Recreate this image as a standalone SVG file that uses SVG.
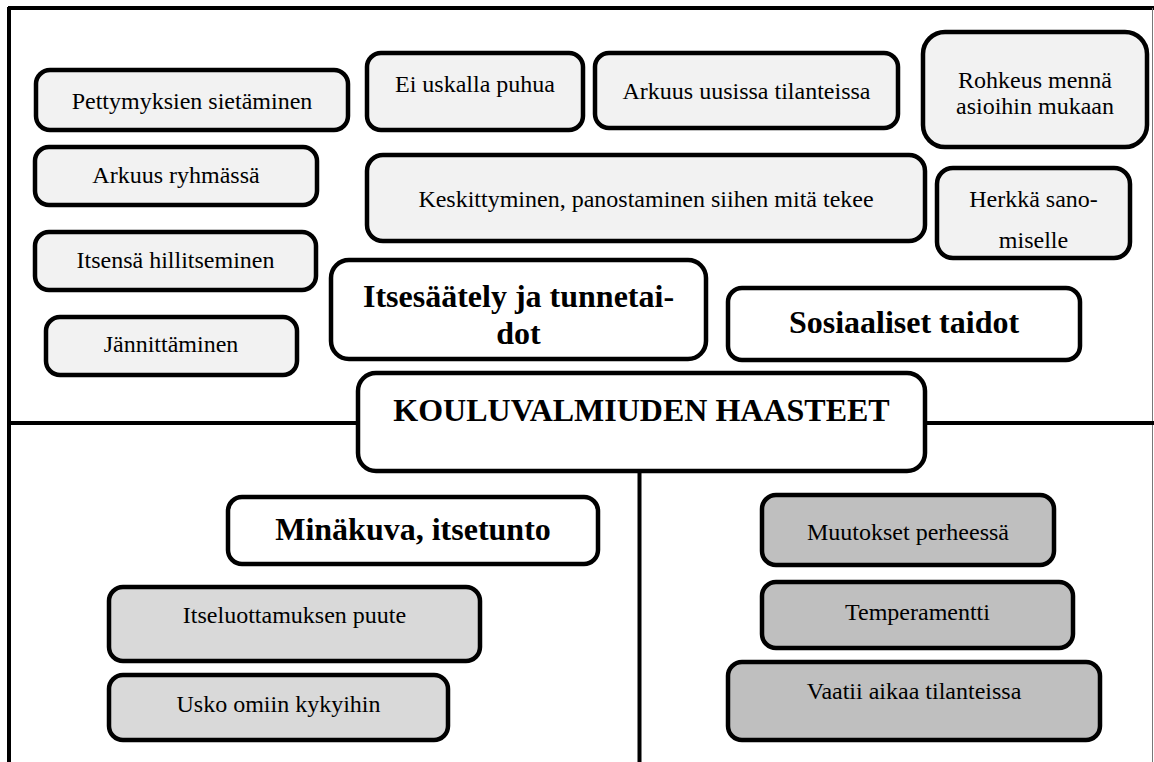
<svg xmlns="http://www.w3.org/2000/svg" width="1154" height="762" viewBox="0 0 1154 762">
  <style>
    .box { stroke: #000; stroke-width: 4.5; }
    .l1 { fill: #f2f2f2; }
    .l2 { fill: #d9d9d9; }
    .l3 { fill: #bfbfbf; }
    .wh { fill: #ffffff; }
    .t { font-family: "Liberation Serif", "Times New Roman", serif; font-size: 24px; fill: #000; text-anchor: middle; }
    .h { font-family: "Liberation Serif", "Times New Roman", serif; font-size: 32px; font-weight: bold; fill: #000; text-anchor: middle; }
    .ln { stroke: #000; stroke-width: 4; fill: none; }
  </style>
  <rect width="1154" height="762" fill="#ffffff"/>

  <!-- frame and dividing lines -->
  <g id="connectors">
    <line class="ln" x1="8" y1="8" x2="1154" y2="8"/>
    <line class="ln" x1="9" y1="7" x2="9" y2="762" stroke-width="3.5"/>
    <line x1="1152.5" y1="8" x2="1152.5" y2="762" stroke="#777" stroke-width="1"/>
    <line class="ln" x1="9" y1="423" x2="358" y2="423"/>
    <line class="ln" x1="925" y1="423" x2="1154" y2="423"/>
    <line class="ln" x1="639.5" y1="471" x2="639.5" y2="762"/>
  </g>

  <!-- upper left: self-regulation items -->
  <g id="pettymyksien">
    <rect class="box l1" x="36" y="70" width="312" height="60" rx="14"/>
    <text class="t" x="192" y="109">Pettymyksien sietäminen</text>
  </g>
  <g id="arkuus-ryhmassa">
    <rect class="box l1" x="35" y="147" width="282" height="58" rx="14"/>
    <text class="t" x="176" y="183">Arkuus ryhmässä</text>
  </g>
  <g id="itsensa-hillitseminen">
    <rect class="box l1" x="35" y="232" width="281" height="58" rx="14"/>
    <text class="t" x="175.5" y="268">Itsensä hillitseminen</text>
  </g>
  <g id="jannittaminen">
    <rect class="box l1" x="46" y="317" width="251" height="58" rx="14"/>
    <text class="t" x="171" y="352">Jännittäminen</text>
  </g>

  <!-- upper right: social items -->
  <g id="ei-uskalla">
    <rect class="box l1" x="367" y="53" width="216" height="77" rx="14"/>
    <text class="t" x="475" y="92">Ei uskalla puhua</text>
  </g>
  <g id="arkuus-uusissa">
    <rect class="box l1" x="595" y="53" width="303" height="75" rx="14"/>
    <text class="t" x="746.5" y="99">Arkuus uusissa tilanteissa</text>
  </g>
  <g id="rohkeus">
    <rect class="box l1" x="923" y="32" width="224" height="115" rx="22"/>
    <text class="t" x="1035" y="88">Rohkeus mennä</text>
    <text class="t" x="1035" y="114">asioihin mukaan</text>
  </g>
  <g id="keskittyminen">
    <rect class="box l1" x="367" y="155" width="558" height="86" rx="16"/>
    <text class="t" x="646" y="207">Keskittyminen, panostaminen siihen mitä tekee</text>
  </g>
  <g id="herkka">
    <rect class="box l1" x="937" y="168" width="193" height="90" rx="16"/>
    <text class="t" x="1033.5" y="207">Herkkä sano-</text>
    <text class="t" x="1033.5" y="248">miselle</text>
  </g>

  <!-- category headings -->
  <g id="itsesaately">
    <rect class="box wh" x="331" y="260" width="375" height="99" rx="18"/>
    <text class="h" x="518.5" y="307">Itsesäätely ja tunnetai-</text>
    <text class="h" x="518.5" y="344">dot</text>
  </g>
  <g id="sosiaaliset">
    <rect class="box wh" x="728" y="288" width="352" height="72" rx="14"/>
    <text class="h" x="904" y="333">Sosiaaliset taidot</text>
  </g>
  <g id="kouluvalmius">
    <rect class="box wh" x="358" y="373" width="567" height="98" rx="18"/>
    <text class="h" x="641.5" y="421">KOULUVALMIUDEN HAASTEET</text>
  </g>
  <g id="minakuva">
    <rect class="box wh" x="228" y="497" width="370" height="67" rx="14"/>
    <text class="h" x="413" y="540">Minäkuva, itsetunto</text>
  </g>

  <!-- lower left: self-image items -->
  <g id="itseluottamus">
    <rect class="box l2" x="109" y="587" width="371" height="74" rx="14"/>
    <text class="t" x="294.5" y="623">Itseluottamuksen puute</text>
  </g>
  <g id="usko">
    <rect class="box l2" x="109" y="675" width="339" height="65" rx="14"/>
    <text class="t" x="278.5" y="712">Usko omiin kykyihin</text>
  </g>

  <!-- lower right: background factors -->
  <g id="muutokset">
    <rect class="box l3" x="762" y="495" width="292" height="70" rx="14"/>
    <text class="t" x="908" y="540">Muutokset perheessä</text>
  </g>
  <g id="temperamentti">
    <rect class="box l3" x="762" y="582" width="311" height="66" rx="14"/>
    <text class="t" x="917.5" y="620">Temperamentti</text>
  </g>
  <g id="vaatii-aikaa">
    <rect class="box l3" x="728" y="662" width="372" height="78" rx="14"/>
    <text class="t" x="914" y="699">Vaatii aikaa tilanteissa</text>
  </g>
</svg>
